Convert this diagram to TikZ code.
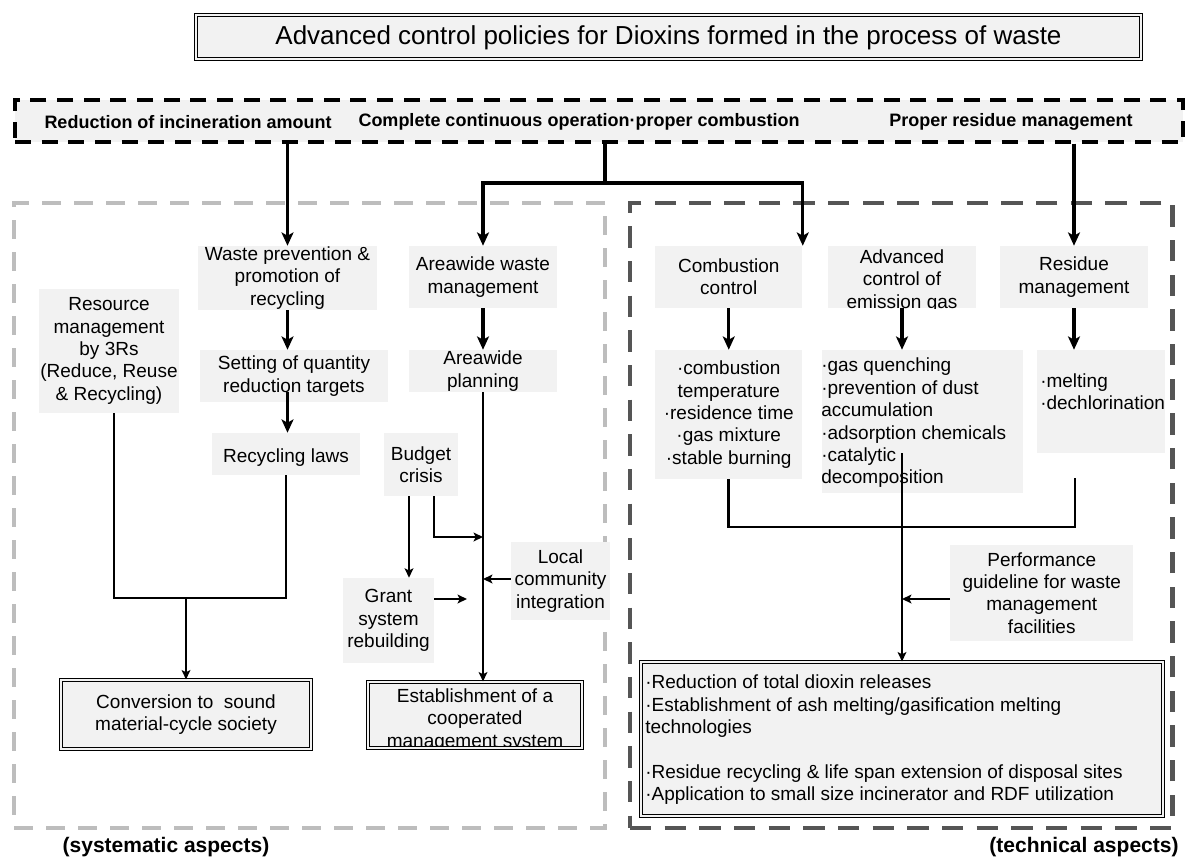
\documentclass[tikz,border=0pt]{standalone}
\usepackage{fontspec}
\setmainfont{Liberation Sans}
\usetikzlibrary{arrows.meta,fit}
\definecolor{boxgray}{HTML}{F2F2F2}
\definecolor{lgray}{HTML}{BDBDBD}
\definecolor{dgray}{HTML}{555555}
\newcommand\nfont{\fontsize{14.25pt}{16.8pt}\selectfont}
\newcommand\bfnt{\fontsize{13.5pt}{16pt}\selectfont\bfseries}
\newcommand\tfnt{\fontsize{19.5pt}{23pt}\selectfont}
\newcommand\lfnt{\fontsize{15.75pt}{19pt}\selectfont\bfseries}
\tikzset{
  sz/.style 2 args={minimum width=#1, minimum height=#2},
  gbox/.style={fill=boxgray, inner sep=0pt, align=center, font=\nfont, execute at begin node={\rule{0pt}{15pt}}},
  txt/.style={inner sep=0pt, font=\nfont},
  dblbox/.style={draw=black, line width=0.8pt, double=boxgray, double distance=1.6pt, fill=boxgray, inner sep=0pt, align=center, font=\nfont, execute at begin node={\rule{0pt}{15pt}}},
  topbox/.style={draw=black, fill=boxgray, line width=2.6pt, dash pattern=on 12pt off 8pt, inner sep=0pt},
  sysframe/.style={draw=lgray, line width=3pt, dash pattern=on 14pt off 10pt, inner sep=0pt},
  techframe/.style={draw=dgray, line width=3.4pt, dash pattern=on 16pt off 10pt, inner sep=0pt},
  bigarrow/.style={line width=2.6pt, -{Stealth[length=10pt,width=9pt,inset=2.5pt]}},
  bigline/.style={line width=2.6pt},
  midarrow/.style={line width=2pt, -{Stealth[length=7pt,width=6.5pt,inset=1.5pt]}},
  midline/.style={line width=2pt},
  thinarrow/.style={line width=1.6pt, -{Stealth[length=7pt,width=6.5pt,inset=1.5pt]}},
  thinline/.style={line width=1.6pt},
  toptext/.style={inner sep=0pt, font=\bfnt},
  lbl/.style={inner sep=0pt, font=\lfnt},
}
\begin{document}
\begin{tikzpicture}[x=0.75pt,y=-0.75pt]
\useasboundingbox (0,0) rectangle (1185,860);

% title
\node[dblbox, font=\tfnt, sz={708.75pt}{33pt}] (title) at (668.5,37) {Advanced control policies for Dioxins formed in the process of waste};

% frames
\node[sysframe, fit={(14,203)(605,828)}] (sysbox) {};
\node[techframe, fit={(630,203)(1172.5,828)}] (techbox) {};
\node[topbox, fit={(15,100)(1183,142)}] (top) {};
\node[toptext] (t1) at (188,122) {Reduction of incineration amount};
\node[toptext] (t2) at (579,122) {Complete continuous operation·proper combustion};
\node[toptext] (t3) at (1011,122) {Proper residue management};

% left column nodes
\node[gbox, sz={105pt}{93pt}] (rm) at (109,351) {Resource\\management\\by 3Rs\\(Reduce, Reuse\\\& Recycling)};
\node[gbox, sz={134.25pt}{48pt}] (wp) at (287.5,278) {Waste prevention \&\\promotion of\\recycling};
\node[gbox, sz={111pt}{46.5pt}] (aw) at (483,277) {Areawide waste\\management};
\node[gbox, sz={141pt}{39pt}] (sq) at (294,376) {Setting of quantity\\reduction targets};
\node[gbox, sz={111pt}{31.5pt}] (ap) at (483,371) {Areawide\\planning};
\node[gbox, sz={111pt}{31.5pt}] (rl) at (286,454) {Recycling laws};
\node[gbox, sz={55.5pt}{47.25pt}] (bc) at (421,464.5) {Budget\\crisis};
\node[gbox, sz={74.25pt}{58.5pt}] (lc) at (560.5,581) {Local\\community\\integration};
\node[gbox, sz={68.25pt}{63.75pt}] (gs) at (388.5,620.5) {Grant\\system\\rebuilding};
\node[dblbox, sz={187.5pt}{51.75pt}] (cv) at (186,714.5) {Conversion to~ sound\\material-cycle society};
\node[dblbox, sz={160.5pt}{49.5pt}] (es) at (475,715) {};
\begin{scope}
  \clip (371,685) rectangle (579,745);
  \node[txt, align=center] (estxt) at (475,720) {Establishment of a\\cooperated\\management system};
\end{scope}

% right column nodes
\node[gbox, sz={110.6pt}{46.5pt}] (cc) at (728.75,277) {Combustion\\control};
\node[gbox, sz={111pt}{46.5pt}] (ac) at (902,277) {};
\begin{scope}
  \clip (828,246) rectangle (976,308);
  \node[txt, align=center] (actxt) at (902,281) {Advanced\\control of\\emission gas};
\end{scope}
\node[gbox, sz={111pt}{46.5pt}] (rsm) at (1074,277) {Residue\\management};
\node[gbox, sz={110.6pt}{96.75pt}] (cb) at (728.75,414.5) {·combustion\\temperature\\·residence time\\·gas mixture\\·stable burning};
\node[gbox, sz={151.1pt}{107.25pt}] (eb) at (922.25,421.5) {};
\node[txt, anchor=west, align=left] (ebt) at (821,423) {·gas quenching\\·prevention of dust\\accumulation\\·adsorption chemicals\\·catalytic\\decomposition};
\node[gbox, sz={96pt}{77.25pt}] (rb) at (1101,401.5) {};
\node[txt, anchor=west, align=left] (rbt) at (1040,392) {·melting\\·dechlorination};
\node[gbox, sz={136.9pt}{72pt}] (pg) at (1041.75,593) {Performance\\guideline for waste\\management\\facilities};
\node[dblbox, sz={391.5pt}{115.5pt}] (res) at (902,739) {};
\node[txt, anchor=west, align=left] (rest) at (645,740) {·Reduction of total dioxin releases\\·Establishment of ash melting/gasification melting\\technologies\\\strut\\·Residue recycling \& life span extension of disposal sites\\·Application to small size incinerator and RDF utilization};

% labels
\node[lbl] (sys) at (166,847) {(systematic aspects)};
\node[lbl] (tech) at (1084,847) {(technical aspects)};

% coordinates
\coordinate (jx) at (605,183);
\coordinate (rmj) at (114,598);
\coordinate (b1) at (409,496);
\coordinate (b2) at (433.6,537);
\coordinate (g1) at (467,599);
\coordinate (lcy) at (483,579);
\coordinate (cj) at (902,527);
\coordinate (rbe) at (1075,478);
\coordinate (p1) at (902,599);

% top-level arrows
\draw[bigarrow] (wp.north |- top.south) -- (wp.north);
\draw[bigline] (jx |- top.south) -- (jx);
\draw[bigarrow] (jx) -| (aw.north);
\draw[bigarrow] (jx) -| (cc.north east);
\draw[bigarrow] (rsm.north |- top.south) -- (rsm.north);

% left connectors
\draw[bigarrow] (wp.south) -- (wp.south |- sq.north);
\draw[bigarrow, shorten <=-7.5pt] (wp.south |- sq.south) -- (wp.south |- rl.north);
\draw[bigarrow] (aw.south) -- (ap.north);
\draw[midline] (rmj |- rm.south) -- (rmj) -| (rl.south);
\draw[midarrow] (cv.north |- rmj) -- (cv.north);
\draw[midarrow] (ap.south) -- (ap.south |- es.north);
\draw[thinarrow] (b1) -- (b1 |- gs.north);
\draw[thinarrow] (b2 |- bc.south) -- (b2) -- (ap.south |- b2);
\draw[thinarrow] (lc.west |- lcy) -- (lcy);
\draw[thinarrow] (gs.east |- g1) -- (g1);

% right connectors
\draw[bigarrow] (cc.south) -- (cb.north);
\draw[bigarrow] (ac.south) -- (ac.south |- eb.north);
\draw[bigarrow] (rsm.south) -- (rsm.south |- rb.north);
\draw[midline] (cb.south) -- (cb.south |- cj) -| (rbe);
\draw[midarrow, shorten <=-30pt] (ac.south |- eb.south) -- (ac.south |- res.north);
\draw[midarrow] (pg.west |- p1) -- (p1);
\end{tikzpicture}
\end{document}
